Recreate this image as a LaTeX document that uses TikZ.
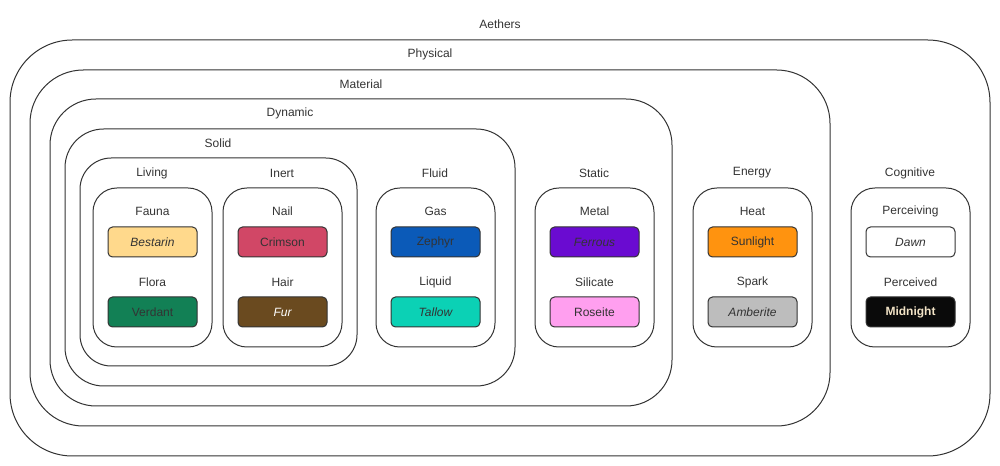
\documentclass[tikz,border=0pt]{standalone}
\usepackage{fontspec}
\setmainfont{Liberation Sans}
\usepackage{xcolor}
\usetikzlibrary{positioning, fit}
\definecolor{frame}{HTML}{333333}
\definecolor{bestarin}{HTML}{FFD98C}
\definecolor{crimson}{HTML}{D14766}
\definecolor{verdant}{HTML}{128055}
\definecolor{fur}{HTML}{6A4A1F}
\definecolor{zephyr}{HTML}{0B5AB8}
\definecolor{tallow}{HTML}{0BD1B5}
\definecolor{ferrous}{HTML}{6A0BD1}
\definecolor{roseite}{HTML}{FF9FEF}
\definecolor{sunlight}{HTML}{FF930F}
\definecolor{amberite}{HTML}{BDBDBD}
\definecolor{midnight}{HTML}{0A0A0A}
\definecolor{cream}{HTML}{F2E3C6}

\begin{document}
\begin{tikzpicture}[
    x=0.75pt, y=-0.75pt,
    grp/.style={rectangle, draw=frame, line width=0.75pt, rounded corners=#1, inner sep=0pt},
    lbl/.style={font=\fontsize{9}{11}\selectfont, text=frame},
    swatch/.style={rectangle, draw=frame, line width=0.75pt, fill=#1, rounded corners=3.4pt, minimum width=66.75pt, minimum height=22.5pt, font=\fontsize{9}{11}\selectfont, text=frame}
]
\useasboundingbox (0,0) rectangle (1000,466);

% nested containers
\node[grp=46.8pt, fit={(10,40) (990,456)}] (physical) {};
\node[grp=40pt, fit={(30,70) (830,426)}] (material) {};
\node[grp=34.5pt, fit={(50,99) (672,406)}] (dynamic) {};
\node[grp=29pt, fit={(65,129) (515,386)}] (solid) {};
\node[grp=23.4pt, fit={(80,158) (357,366)}] (livinginert) {};

% leaf groups
\node[grp=17.9pt, fit={(93,188) (212,347)}] (living) {};
\node[grp=17.9pt, fit={(223,188) (342,347)}] (inert) {};
\node[grp=17.9pt, fit={(376,188) (495,347)}] (fluid) {};
\node[grp=17.9pt, fit={(535,188) (654,347)}] (static) {};
\node[grp=17.9pt, fit={(693,188) (812,347)}] (energy) {};
\node[grp=17.9pt, fit={(851,188) (970,347)}] (cognitive) {};

% titles
\node[lbl] (aetherslbl) at (500,24) {Aethers};
\node[lbl] (physicallbl) at (430,54) {Physical};
\node[lbl] (materiallbl) at (361,84) {Material};
\node[lbl] (dynamiclbl) at (290,113) {Dynamic};
\node[lbl] (solidlbl) at (218,143) {Solid};
\node[lbl] (livinglbl) at (152,173) {Living};
\node[lbl] (inertlbl) at (282,173) {Inert};
\node[lbl] (fluidlbl) at (435,173) {Fluid};
\node[lbl] (staticlbl) at (594,173) {Static};
\node[lbl] (energylbl) at (752,173) {Energy};
\node[lbl] (cognitivelbl) at (910,173) {Cognitive};

% Living
\node[lbl] (fauna) at (152.5,211) {Fauna};
\node[swatch=bestarin, font=\fontsize{9}{11}\selectfont\itshape] (bestarin) at (152.5,242) {Bestarin};
\node[lbl] (flora) at (152.5,282) {Flora};
\node[swatch=verdant] (verdant) at (152.5,312) {Verdant};

% Inert
\node[lbl] (nail) at (282.5,211) {Nail};
\node[swatch=crimson] (crimson) at (282.5,242) {Crimson};
\node[lbl] (hair) at (282.5,282) {Hair};
\node[swatch=fur, text=white, font=\fontsize{9}{11}\selectfont\itshape] (fur) at (282.5,312) {Fur};

% Fluid
\node[lbl] (gas) at (435.5,211) {Gas};
\node[swatch=zephyr] (zephyr) at (435.5,242) {Zephyr};
\node[lbl] (liquid) at (435.5,282) {Liquid};
\node[swatch=tallow, font=\fontsize{9}{11}\selectfont\itshape] (tallow) at (435.5,312) {Tallow};

% Static
\node[lbl] (metal) at (594.5,211) {Metal};
\node[swatch=ferrous, font=\fontsize{9}{11}\selectfont\itshape] (ferrous) at (594.5,242) {Ferrous};
\node[lbl] (silicate) at (594.5,282) {Silicate};
\node[swatch=roseite] (roseite) at (594.5,312) {Roseite};

% Energy
\node[lbl] (heat) at (752.5,211) {Heat};
\node[swatch=sunlight] (sunlight) at (752.5,242) {Sunlight};
\node[lbl] (spark) at (752.5,282) {Spark};
\node[swatch=amberite, font=\fontsize{9}{11}\selectfont\itshape] (amberite) at (752.5,312) {Amberite};

% Cognitive
\node[lbl] (perceiving) at (910.5,211) {Perceiving};
\node[swatch=white, font=\fontsize{9}{11}\selectfont\itshape] (dawn) at (910.5,242) {Dawn};
\node[lbl] (perceived) at (910.5,282) {Perceived};
\node[swatch=midnight, text=cream, font=\fontsize{9}{11}\selectfont\bfseries] (midnight) at (910.5,312) {Midnight};
\end{tikzpicture}
\end{document}
